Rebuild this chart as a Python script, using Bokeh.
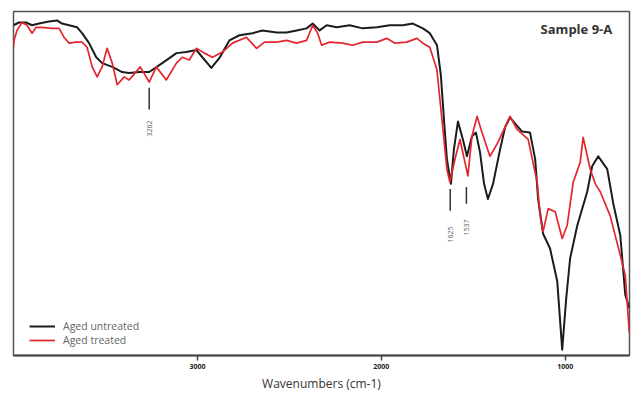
from bokeh.plotting import figure
from bokeh.models import Range1d, FixedTicker, Label, Legend, LegendItem
from bokeh.core.properties import value
from bokeh.embed import file_html
from bokeh.resources import INLINE

# Wavenumbers (cm-1) and transmittance (arbitrary %)
untreated_wn = [4000, 3970, 3932, 3899, 3861, 3807, 3763, 3736, 3698, 3654, 3627, 3589, 3550, 3518,
                3463, 3409, 3371, 3316, 3262, 3191, 3114, 3060, 3005, 2973, 2924, 2880, 2826, 2771,
                2700, 2646, 2569, 2515, 2460, 2406, 2373, 2335, 2297, 2242, 2172, 2101, 2024, 1954,
                1883, 1828, 1774, 1736, 1697, 1676, 1659, 1643, 1621, 1605, 1583, 1556, 1534, 1507,
                1485, 1463, 1441, 1420, 1392, 1354, 1327, 1300, 1267, 1234, 1191, 1163, 1147, 1120,
                1082, 1043, 1016, 994, 973, 934, 880, 853, 820, 771, 738, 700, 673, 651]
untreated_t = [96.0, 96.8, 96.8, 96.0, 96.5, 97.1, 97.4, 96.5, 96.0, 95.4, 93.7, 90.8, 86.7, 85.0,
               83.9, 82.4, 82.1, 82.4, 82.4, 85.0, 87.9, 88.2, 88.8, 86.7, 83.6, 86.5, 91.6, 93.1,
               93.7, 94.5, 93.9, 93.9, 94.5, 95.1, 96.5, 94.5, 96.0, 95.4, 96.0, 95.1, 95.4, 96.0,
               96.0, 96.5, 95.1, 93.7, 90.2, 81.6, 68.6, 57.1, 49.9, 59.9, 68.0, 62.8, 57.9, 63.7,
               64.8, 59.1, 49.9, 45.5, 49.9, 59.9, 66.3, 69.2, 67.1, 65.1, 64.8, 57.1, 45.5, 35.4,
               31.1, 21.6, 1.7, 16.7, 28.2, 37.8, 47.6, 55.0, 57.9, 54.2, 44.1, 34.9, 17.6, 13.8]

treated_wn = [4000, 3997, 3981, 3954, 3927, 3899, 3877, 3845, 3790, 3752, 3725, 3698, 3659, 3627,
              3600, 3572, 3545, 3518, 3491, 3463, 3436, 3398, 3371, 3311, 3262, 3223, 3169, 3114,
              3082, 3044, 3005, 2962, 2918, 2864, 2809, 2733, 2678, 2635, 2569, 2515, 2460, 2406,
              2373, 2346, 2324, 2281, 2210, 2155, 2101, 2024, 1970, 1926, 1861, 1806, 1774, 1736,
              1697, 1670, 1643, 1627, 1599, 1572, 1545, 1529, 1507, 1479, 1452, 1409, 1365, 1300,
              1261, 1201, 1152, 1136, 1120, 1092, 1054, 1016, 989, 956, 918, 902, 864, 836, 809,
              755, 700, 673, 651]
treated_t = [89.6, 91.6, 94.5, 96.8, 96.0, 93.7, 95.4, 95.4, 95.1, 95.1, 92.5, 90.8, 91.1, 91.1,
             89.6, 83.9, 81.0, 83.9, 89.3, 85.0, 78.7, 81.0, 80.1, 83.9, 79.5, 83.9, 80.1, 85.0,
             86.7, 85.9, 89.3, 87.9, 86.7, 88.2, 90.8, 92.5, 89.3, 91.1, 91.1, 91.6, 90.8, 91.6,
             96.0, 93.7, 90.2, 91.1, 90.8, 90.2, 91.1, 91.1, 92.2, 90.8, 91.1, 92.2, 90.8, 89.6,
             83.0, 68.6, 54.2, 50.4, 57.1, 62.8, 56.2, 52.2, 63.7, 69.5, 64.8, 57.9, 62.0, 69.5,
             65.7, 62.8, 50.4, 40.6, 36.0, 42.7, 41.8, 34.0, 37.8, 50.4, 56.2, 63.4, 54.2, 49.9, 47.6,
             40.6, 29.1, 23.3, 6.6]

peak_labels = ["3262", "1625", "1537"]
peak_wn = [3262, 1625, 1537]
peak_line_top = [77.8, 48.4, 49.0]
peak_line_bottom = [71.5, 42.1, 44.1]
peak_text_y = [66.0, 35.2, 37.2]

x_ticks = [3000, 2000, 1000]
series_names = ["Aged untreated", "Aged treated"]
title_text = "Sample 9-A"
x_title = "Wavenumbers (cm-1)"

FONT = "Open Sans"

p = figure(width=631, height=394, output_backend="svg", toolbar_location=None,
           x_range=Range1d(4000, 650), y_range=Range1d(0, 100),
           y_axis_location=None, min_border_left=13, min_border_right=2,
           min_border_top=11, min_border_bottom=36)
p.background_fill_color = "white"
p.border_fill_color = "white"
p.outline_line_color = "#555555"
p.outline_line_width = 1.5
p.xgrid.visible = False
p.ygrid.visible = False

ax = p.xaxis[0]
ax.ticker = FixedTicker(ticks=x_ticks)
ax.minor_tick_line_color = None
ax.major_tick_in = 0
ax.major_tick_out = 5
ax.major_tick_line_color = "#444444"
ax.major_tick_line_width = 1.5
ax.axis_line_color = "#444444"
ax.axis_line_width = 2
ax.major_label_text_font = FONT
ax.major_label_text_font_size = "7px"
ax.major_label_text_font_style = "bold"
ax.major_label_text_color = "#222222"
ax.major_label_standoff = 3
ax.axis_label = x_title
ax.axis_label_text_font = FONT
ax.axis_label_text_font_size = "12px"
ax.axis_label_text_font_style = "normal"
ax.axis_label_text_color = "#333333"
ax.axis_label_standoff = 3

r1 = p.line(untreated_wn, untreated_t, line_color="#1c1c1c", line_width=2, line_join="round")
r2 = p.line(treated_wn, treated_t, line_color="#e3262e", line_width=1.7, line_join="round")

# peak markers
p.segment(x0=peak_wn, y0=peak_line_bottom, x1=peak_wn, y1=peak_line_top,
          line_color="#333333", line_width=1.5)
p.text(x=peak_wn, y=peak_text_y, text=peak_labels, angle=1.5708,
       text_font=value(FONT), text_font_size="7px", text_color="#666666",
       text_align="center", text_baseline="middle")

p.add_layout(Label(x=744, y=94.8, text=title_text, text_font=FONT, text_font_size="13px",
                   text_font_style="bold", text_color="#333333", text_align="right",
                   text_baseline="middle"))

legend = Legend(items=[LegendItem(label=series_names[0], renderers=[r1]),
                       LegendItem(label=series_names[1], renderers=[r2])],
                location=(16, 8), orientation="vertical")
legend.background_fill_alpha = 0
legend.border_line_color = None
legend.padding = 0
legend.margin = 0
legend.spacing = 0
legend.glyph_width = 26
legend.glyph_height = 14
legend.label_height = 14
legend.label_standoff = 8
legend.label_text_font = FONT
legend.label_text_font_size = "10.5px"
legend.label_text_color = "#666666"
p.add_layout(legend, "center")

open("out.html", "w").write(file_html(p, INLINE))
